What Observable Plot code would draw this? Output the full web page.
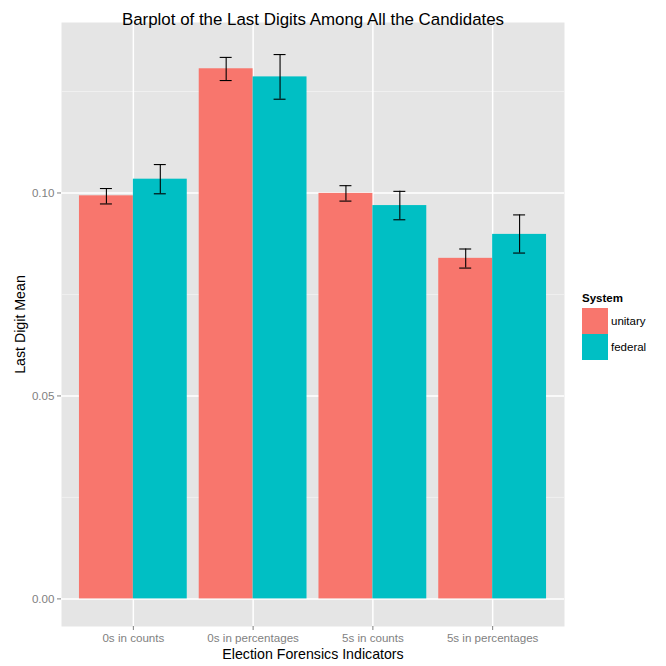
<!DOCTYPE html>
<html>
<head>
<meta charset="utf-8">
<script src="https://cdn.jsdelivr.net/npm/d3@7"></script>
<script src="https://cdn.jsdelivr.net/npm/@observablehq/plot@0.6"></script>
<style>
  html, body { margin: 0; padding: 0; background: #fff; }
  #chart { width: 666px; height: 666px; }
</style>
</head>
<body>
<div id="chart"></div>
<script>
const title = "Barplot of the Last Digits Among All the Candidates";
const xTitle = "Election Forensics Indicators";
const yTitle = "Last Digit Mean";
const legendTitle = "System";
const categories = ["0s in counts", "0s in percentages", "5s in counts", "5s in percentages"];
const systems = ["unitary", "federal"];
const colors = ["#F8766D", "#00BFC4"];
const unitaryMean = [0.0993, 0.1306, 0.0999, 0.0839];
const unitaryLow  = [0.0973, 0.1277, 0.0980, 0.0815];
const unitaryHigh = [0.1011, 0.1334, 0.1018, 0.0862];
const federalMean = [0.1034, 0.1286, 0.0969, 0.0898];
const federalLow  = [0.0998, 0.1231, 0.0934, 0.0852];
const federalHigh = [0.1070, 0.1341, 0.1004, 0.0946];
const yTicks = [0, 0.05, 0.10];
const yMinor = [0.025, 0.075, 0.125];

// dodge layout like ggplot: bar width 0.9, two series side by side
const dodge = 0.45;
const capHalf = 0.05;
const series = [
  {name: systems[0], mean: unitaryMean, low: unitaryLow, high: unitaryHigh},
  {name: systems[1], mean: federalMean, low: federalLow, high: federalHigh}
];
const data = [];
series.forEach((s, si) => {
  categories.forEach((c, ci) => {
    const x1 = ci + 1 - 0.45 + si * dodge;
    data.push({
      category: c, system: s.name,
      x1, x2: x1 + dodge, xc: x1 + dodge / 2,
      mean: s.mean[ci], low: s.low[ci], high: s.high[ci]
    });
  });
});

const font = "Liberation Sans, Arial, Helvetica, sans-serif";
const plot = Plot.plot({
  width: 666,
  height: 666,
  marginLeft: 61,
  marginRight: 102,
  marginTop: 22,
  marginBottom: 40,
  style: {fontFamily: font, background: "#fff", overflow: "visible"},
  x: {type: "linear", domain: [0.4, 4.6]},
  y: {domain: [-0.0068, 0.1420]},
  color: {domain: systems, range: colors},
  marks: [
    Plot.frame({fill: "#E5E5E5", stroke: null}),
    Plot.ruleY(yMinor, {stroke: "#F2F2F2", strokeWidth: 0.8}),
    Plot.ruleY(yTicks, {stroke: "#FFFFFF", strokeWidth: 1.5}),
    Plot.ruleX([1, 2, 3, 4], {stroke: "#FFFFFF", strokeWidth: 1.5}),
    Plot.rectY(data, {x1: "x1", x2: "x2", y1: 0, y2: "mean", fill: "system"}),
    Plot.ruleX(data, {x: "xc", y1: "low", y2: "high", stroke: "#000", strokeWidth: 1.1}),
    Plot.ruleY(data, {y: "high", x1: d => d.xc - capHalf, x2: d => d.xc + capHalf, stroke: "#000", strokeWidth: 1.1}),
    Plot.ruleY(data, {y: "low", x1: d => d.xc - capHalf, x2: d => d.xc + capHalf, stroke: "#000", strokeWidth: 1.1}),
    Plot.axisY({ticks: yTicks, tickFormat: d3.format(".2f"), tickSize: 4, tickPadding: 3,
      fontSize: 11.6, color: "#7F7F7F", label: null}),
    Plot.axisX({ticks: [1, 2, 3, 4], tickFormat: d => categories[d - 1], tickSize: 4, tickPadding: 3,
      fontSize: 11.6, color: "#7F7F7F", label: null}),
    Plot.text([title], {frameAnchor: "top", dy: -10, fontSize: 16.9, fill: "#000", textAnchor: "middle"}),
    Plot.text([xTitle], {frameAnchor: "bottom", dy: 32, fontSize: 14.2, fill: "#000", textAnchor: "middle"}),
    Plot.text([yTitle], {frameAnchor: "left", dx: -41, rotate: -90, fontSize: 14.2, fill: "#000", textAnchor: "middle"})
  ]
});

// legend (guide) in the right margin
const svg = d3.select(plot);
const lg = svg.append("g").attr("transform", "translate(582,298)")
  .style("font-family", font).attr("text-anchor", "start");
lg.append("text").attr("x", 0).attr("y", 4).attr("font-size", 11.5).attr("font-weight", "bold")
  .attr("fill", "#000").attr("text-anchor", "start").text(legendTitle);
systems.forEach((s, i) => {
  lg.append("rect").attr("x", 0).attr("y", 10 + i * 26).attr("width", 26).attr("height", 26).attr("fill", colors[i]);
  lg.append("text").attr("x", 29).attr("y", 10 + i * 26 + 13).attr("dy", "0.35em")
    .attr("font-size", 11.5).attr("fill", "#000").attr("text-anchor", "start").text(s);
});

document.getElementById("chart").appendChild(plot);
</script>
</body>
</html>
